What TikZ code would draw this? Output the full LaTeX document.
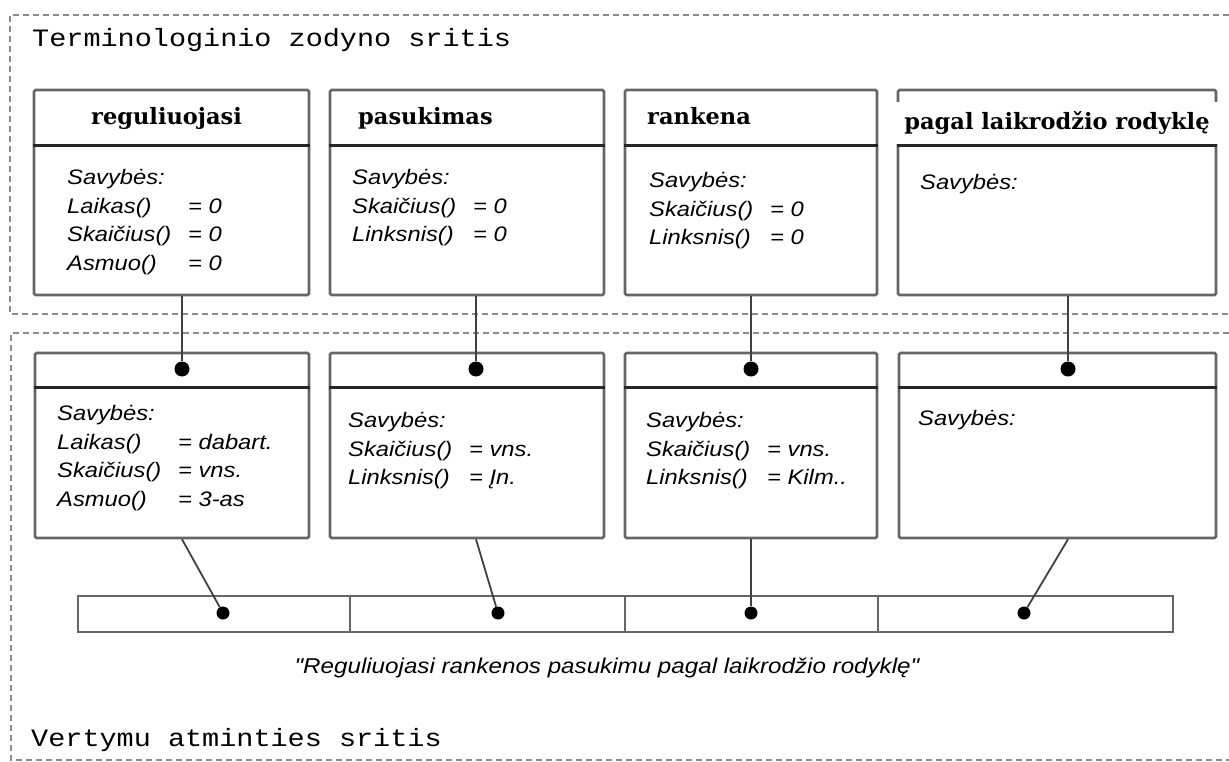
\documentclass[tikz,border=0pt]{standalone}
\usepackage{fontspec}
\newfontfamily\propfont[FakeStretch=1.13]{Liberation Sans}
\newfontfamily\headfont{DejaVu Serif}
\newfontfamily\areafont[FakeStretch=1.14]{Liberation Mono}
\usepackage{tikz}
\usetikzlibrary{positioning}

\newcommand{\attr}[2]{\makebox[121pt][l]{#1}= #2}

\begin{document}
\begin{tikzpicture}[
    x=1pt, y=1pt,
    area/.style={draw=black!45, dash pattern=on 6pt off 4pt, line width=1.5pt},
    word/.style={rectangle, draw=black!60, line width=2.6pt, rounded corners=1.5pt, inner sep=0pt},
    cell/.style={rectangle, draw=black!60, line width=2.4pt, minimum height=36pt, inner sep=0pt, outer sep=0pt},
    rule/.style={draw=black!85, line width=3.2pt},
    link/.style={draw=black!75, line width=1.8pt},
    dot/.style={circle, fill=black, inner sep=0pt, minimum size=15pt},
    head/.style={anchor=base west, inner sep=0pt, font=\headfont\bfseries\fontsize{22.5}{27}\selectfont},
    prop/.style={anchor=north west, align=left, inner sep=0pt, font=\propfont\itshape\fontsize{21}{28.7}\selectfont},
    areatext/.style={anchor=west, inner sep=0pt, font=\areafont\fontsize{25}{30}\selectfont}
]
    \useasboundingbox (0,0) rectangle (1229,-762);

    % sritys
    \draw [area] (1229,-15) -| (10,-314) -- (1229,-314);
    \draw [area] (1229,-333) -| (11,-760) -- (1229,-760);
    \node [areatext] (termlbl) at (32,-40) {Terminologinio zodyno sritis};
    \node [areatext] (memlbl) at (31,-740) {Vertymu atminties sritis};

    % terminu zodynas
    \node [word, minimum width=275pt, minimum height=205pt] (t1) at (171.5,-192.5) {};
    \node [word, minimum width=274pt, minimum height=205pt] (t2) at (467,-192.5) {};
    \node [word, minimum width=252pt, minimum height=205pt] (t3) at (751,-192.5) {};
    \node [word, minimum width=318pt, minimum height=205pt] (t4) at (1057,-192.5) {};
    \draw [rule] ([yshift=-57pt]t1.north west) -- ([yshift=-57pt]t1.north east);
    \draw [rule] ([yshift=-57pt]t2.north west) -- ([yshift=-57pt]t2.north east);
    \draw [rule] ([yshift=-57pt]t3.north west) -- ([yshift=-57pt]t3.north east);
    \draw [rule] ([yshift=-57pt]t4.north west) -- ([yshift=-57pt]t4.north east);

    \node [head] (h1) at (91,-125) {reguliuojasi};
    \node [head] (h2) at (358,-125) {pasukimas};
    \node [head] (h3) at (647,-125) {rankena};
    \node [head, anchor=center, fill=white, minimum width=326pt, minimum height=42pt] (h4) at (1057,-123) {pagal laikrodžio rodyklę};

    \node [prop] (p1) at (67,-169) {Savybės:\\ \attr{Laikas()}{0}\\ \attr{Skaičius()}{0}\\ \attr{Asmuo()}{0}};
    \node [prop] (p2) at (352,-169) {Savybės:\\ \attr{Skaičius()}{0}\\ \attr{Linksnis()}{0}};
    \node [prop] (p3) at (649,-172) {Savybės:\\ \attr{Skaičius()}{0}\\ \attr{Linksnis()}{0}};
    \node [prop] (p4) at (920,-174) {Savybės:};

    % vertimu atmintis
    \node [word, minimum width=274pt, minimum height=185pt] (b1) at (172,-445.5) {};
    \node [word, minimum width=274pt, minimum height=185pt] (b2) at (467,-445.5) {};
    \node [word, minimum width=252pt, minimum height=185pt] (b3) at (751,-445.5) {};
    \node [word, minimum width=317pt, minimum height=185pt] (b4) at (1057.5,-445.5) {};
    \draw [rule] ([yshift=-36pt]b1.north west) -- ([yshift=-36pt]b1.north east);
    \draw [rule] ([yshift=-36pt]b2.north west) -- ([yshift=-36pt]b2.north east);
    \draw [rule] ([yshift=-36pt]b3.north west) -- ([yshift=-36pt]b3.north east);
    \draw [rule] ([yshift=-36pt]b4.north west) -- ([yshift=-36pt]b4.north east);

    \node [prop] (q1) at (57,-405) {Savybės:\\ \attr{Laikas()}{dabart.}\\ \attr{Skaičius()}{vns.}\\ \attr{Asmuo()}{3-as}};
    \node [prop] (q2) at (348,-412) {Savybės:\\ \attr{Skaičius()}{vns.}\\ \attr{Linksnis()}{Įn.}};
    \node [prop] (q3) at (646,-412) {Savybės:\\ \attr{Skaičius()}{vns.}\\ \attr{Linksnis()}{Kilm..}};
    \node [prop] (q4) at (918,-410) {Savybės:};

    \node [dot] (d1) at (182,-369) {};
    \node [dot] (d2) at (476,-369) {};
    \node [dot] (d3) at (751,-369) {};
    \node [dot] (d4) at (1068,-369) {};

    \draw [link] (d1 |- t1.south) -- (d1);
    \draw [link] (d2 |- t2.south) -- (d2);
    \draw [link] (d3 |- t3.south) -- (d3);
    \draw [link] (d4 |- t4.south) -- (d4);

    % sakinys
    \node [cell, minimum width=272pt] (c1) at (214,-614) {};
    \node [cell, minimum width=275pt, right=0pt of c1] (c2) {};
    \node [cell, minimum width=253pt, right=0pt of c2] (c3) {};
    \node [cell, minimum width=295pt, right=0pt of c3] (c4) {};

    \node [dot, minimum size=13pt] (s1) at (223,-613) {};
    \node [dot, minimum size=13pt] (s2) at (498,-613) {};
    \node [dot, minimum size=13pt] (s3) at (751,-613) {};
    \node [dot, minimum size=13pt] (s4) at (1024,-613) {};

    \draw [link] (d1 |- b1.south) -- (s1);
    \draw [link] (d2 |- b2.south) -- (s2);
    \draw [link] (d3 |- b3.south) -- (s3);
    \draw [link] (d4 |- b4.south) -- (s4);

    \node [prop, anchor=center, font=\propfont\itshape\fontsize{21.4}{26}\selectfont] (sent) at (607,-668) {"Reguliuojasi rankenos pasukimu pagal laikrodžio rodyklę"};
\end{tikzpicture}
\end{document}
